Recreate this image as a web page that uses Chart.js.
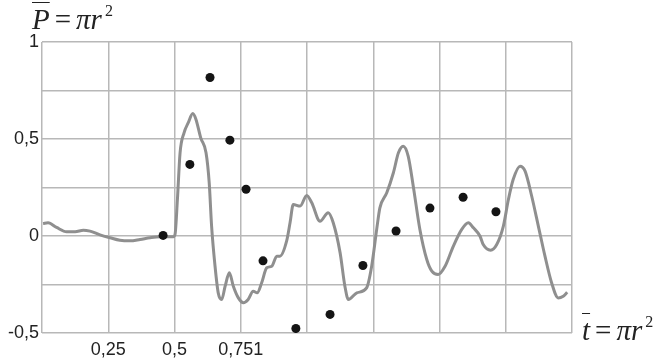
<!DOCTYPE html>
<html lang="ru">

<head>
  <meta charset="UTF-8">
  <title>P = πr²</title>
  <script src="https://cdn.jsdelivr.net/npm/chart.js"></script>
  <style>
    html, body {
      margin: 0;
      padding: 0;
      background: #fff;
    }

    #wrap {
      position: relative;
      width: 665px;
      height: 361px;
    }

    #chart {
      position: absolute;
      left: 0;
      top: 0;
    }

    .math {
      position: absolute;
      font-family: "Liberation Serif", "DejaVu Serif", serif;
      font-style: italic;
      font-size: 29px;
      line-height: 29px;
      color: #222;
      white-space: nowrap;
    }

    .math .bar {
      text-decoration: overline;
      text-decoration-thickness: 1px;
    }

    .math .op {
      font-style: normal;
      margin: 0 5px;
    }

    .math sup {
      font-size: 16px;
      line-height: 16px;
      vertical-align: baseline;
      position: relative;
      top: -13px;
      margin-left: 3px;
      font-style: normal;
    }
  </style>
</head>

<body>
  <div id="wrap">
    <canvas id="chart" width="665" height="361"></canvas>
    <div class="math" style="left:32px; top:5px;"><span class="bar">P</span><span class="op">=</span>πr<sup>2</sup></div>
    <div class="math" style="left:582px; top:316px;"><span class="bar">t</span><span class="op">=</span>πr<sup>2</sup></div>
  </div>

  <script>
    // axis tick labels (as printed on the original)
    const xTickLabels = ['', '0,25', '0,5', '0,751', '', '', '', '', ''];
    const yTickLabels = ['-0,5', '', '0', '', '0,5', '', '1'];

    // grey curve
    const curveX = [0.004, 0.023, 0.055, 0.093, 0.125, 0.156, 0.181, 0.219, 0.257, 0.294, 0.332, 0.370, 0.408, 0.445, 0.495,
      0.502, 0.511, 0.521, 0.536, 0.552, 0.569, 0.581, 0.599, 0.619, 0.631, 0.640, 0.653, 0.665, 0.678, 0.691, 0.707,
      0.722, 0.741, 0.760, 0.778, 0.797, 0.812, 0.829, 0.848, 0.867, 0.886, 0.898, 0.923, 0.936, 0.948, 0.974, 0.999,
      1.018, 1.049, 1.080, 1.099, 1.125, 1.143, 1.156, 1.188, 1.225, 1.244, 1.263, 1.275, 1.301, 1.326, 1.345, 1.363,
      1.382, 1.401, 1.426, 1.452, 1.471, 1.495, 1.521, 1.552, 1.584, 1.609, 1.628, 1.653, 1.665, 1.693, 1.716, 1.741,
      1.760, 1.778, 1.804, 1.823, 1.848, 1.873, 1.898, 1.923, 1.948, 1.967, 1.982];
    const curveY = [0.064, 0.068, 0.044, 0.022, 0.022, 0.030, 0.025, 0.006, -0.009, -0.022, -0.025, -0.018, -0.009, -0.004, -0.004,
      0.008, 0.188, 0.429, 0.532, 0.584, 0.631, 0.601, 0.506, 0.429, 0.274, 0.051, -0.156, -0.293, -0.327, -0.259, -0.190,
      -0.259, -0.319, -0.344, -0.327, -0.285, -0.293, -0.241, -0.164, -0.156, -0.104, -0.104, -0.027, 0.068, 0.162, 0.154, 0.209,
      0.171, 0.076, 0.120, 0.068, -0.087, -0.259, -0.327, -0.293, -0.267, -0.156, 0.034, 0.145, 0.223, 0.326, 0.429, 0.463,
      0.411, 0.257, 0.034, -0.121, -0.181, -0.198, -0.156, -0.053, 0.034, 0.068, 0.042, -0.001, -0.044, -0.073, -0.044, 0.051,
      0.188, 0.291, 0.360, 0.334, 0.205, 0.051, -0.104, -0.241, -0.319, -0.310, -0.290];

    // black dots
    const dotX = [0.457, 0.558, 0.634, 0.709, 0.770, 0.834, 0.958, 1.087, 1.211, 1.336, 1.464, 1.589, 1.713];
    const dotY = [0.003, 0.369, 0.817, 0.494, 0.241, -0.128, -0.477, -0.404, -0.152, 0.026, 0.144, 0.200, 0.125];

    const curve = curveX.map((x, i) => ({ x: x, y: curveY[i] }));
    const dots = dotX.map((x, i) => ({ x: x, y: dotY[i] }));

    const tickFont = { family: 'Liberation Sans', size: 18 };

    new Chart(document.getElementById('chart'), {
      data: {
        datasets: [{
          type: 'scatter',
          data: dots,
          order: 0,
          pointRadius: 4.5,
          pointHoverRadius: 4.5,
          backgroundColor: '#141414',
          borderWidth: 0
        }, {
          type: 'line',
          data: curve,
          order: 1,
          borderColor: '#8f8f8f',
          borderWidth: 3,
          pointRadius: 0,
          fill: false,
          cubicInterpolationMode: 'monotone'
        }]
      },
      options: {
        responsive: false,
        animation: false,
        layout: {
          padding: { top: 42, right: 93, left: 0, bottom: 0 }
        },
        plugins: {
          legend: { display: false },
          tooltip: { enabled: false }
        },
        scales: {
          x: {
            type: 'linear',
            min: 0,
            max: 2,
            afterFit: (s) => { s.height = 28; },
            border: { display: false },
            grid: { color: '#b8b8b8', lineWidth: 1.5, drawTicks: false },
            ticks: {
              stepSize: 0.25,
              autoSkip: false,
              maxRotation: 0,
              padding: 6,
              color: '#222',
              font: tickFont,
              callback: (v, i) => xTickLabels[i]
            }
          },
          y: {
            min: -0.5,
            max: 1,
            afterFit: (s) => { s.width = 42; },
            border: { display: false },
            grid: { color: '#b8b8b8', lineWidth: 1.5, drawTicks: false },
            ticks: {
              stepSize: 0.25,
              padding: 3,
              color: '#222',
              font: tickFont,
              callback: (v, i) => yTickLabels[i]
            }
          }
        }
      }
    });
  </script>
</body>

</html>
